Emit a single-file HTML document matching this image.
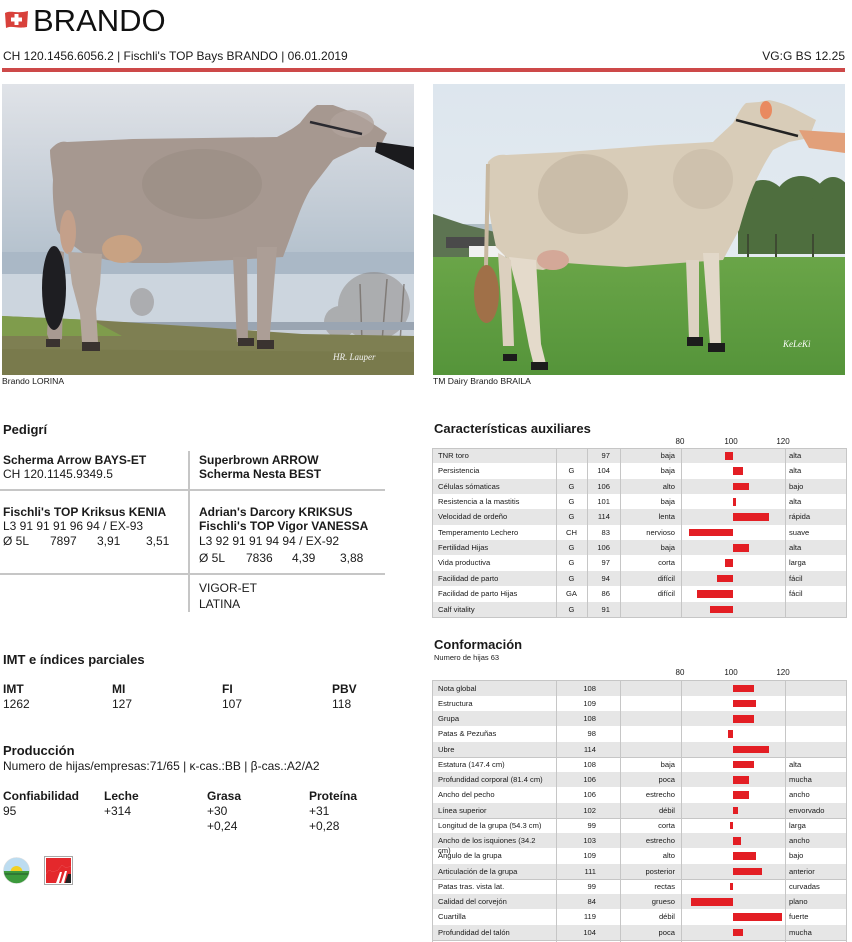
<!DOCTYPE html>
<html><head><meta charset="utf-8">
<style>
*{margin:0;padding:0;box-sizing:border-box}
html,body{width:852px;height:942px;overflow:hidden;background:#fff}
body{position:relative;font-family:"Liberation Sans",sans-serif;color:#1a1a1a}
.a{position:absolute;white-space:nowrap}
.L{position:absolute;white-space:nowrap;font-size:12px;line-height:15px}
.b{font-weight:bold}
.H{position:absolute;white-space:nowrap;font-size:13px;line-height:16px;font-weight:bold}
.ax{position:absolute;font-size:8px;line-height:10px;width:30px;text-align:center}
.r{position:absolute;left:432px;width:414px;height:15.35px;line-height:15.35px;font-size:7.6px}
.r2{height:15.25px;line-height:15.25px}
.g{background:#e6e6e6}
.r span{position:absolute;white-space:nowrap}
.n{left:6px}
.c{left:124px;width:31px;text-align:center}
.v{right:236px}
.v2{right:250px}
.lo{right:171px}
.hi{left:357px}
.bar{position:absolute;top:4px;height:7.5px;background:#e31e24}
.vl{position:absolute;width:1px;background:#c6c6c6}
.hl{position:absolute;height:1px;background:#c6c6c6}
</style></head><body>

<!-- Header -->
<svg class="a" style="left:4px;top:10px" width="25" height="19" viewBox="0 0 25 19">
<path d="M1,3 C7,0 12,4 24,1 L23,17 C13,19 8,15 2,18 Z" fill="#d8413b"/>
<rect x="10.5" y="4" width="4" height="11" fill="#fff"/>
<rect x="7" y="7.5" width="11" height="4" fill="#fff"/>
</svg>
<div class="a" style="left:33px;top:3.4px;font-size:31px;line-height:36px;color:#111">BRANDO</div>
<div class="L" style="left:3px;top:48.5px">CH 120.1456.6056.2 | Fischli's TOP Bays BRANDO | 06.01.2019</div>
<div class="L" style="right:7px;top:48.5px">VG:G BS 12.25</div>
<div class="a" style="left:2px;top:68px;width:843px;height:4px;background:#cd4949"></div>

<!-- Left photo -->
<svg class="a" style="left:2px;top:84px" width="412" height="291" viewBox="0 0 412 291">
<defs><linearGradient id="s1" x1="0" y1="0" x2="0" y2="1"><stop offset="0" stop-color="#e0e3e8"/><stop offset="0.6" stop-color="#c7cfd8"/><stop offset="1" stop-color="#b4c1cd"/></linearGradient></defs>
<rect width="412" height="291" fill="#c9d0d8"/>
<rect width="412" height="175" fill="url(#s1)"/>
<rect y="168" width="412" height="22" fill="#aab8c6"/>
<rect y="190" width="412" height="50" fill="#ccd5de"/>
<g fill="#857d78" opacity="0.45"><ellipse cx="372" cy="222" rx="36" ry="34"/><ellipse cx="338" cy="238" rx="16" ry="16"/><ellipse cx="140" cy="218" rx="12" ry="14"/></g>
<g stroke="#6e6660" stroke-width="1.5" opacity="0.7"><line x1="360" y1="258" x2="358" y2="200"/><line x1="380" y1="258" x2="385" y2="195"/><line x1="398" y1="258" x2="402" y2="200"/></g>
<rect y="238" width="412" height="8" fill="#9aa5b2"/>
<polygon points="0,232 90,236 200,243 300,250 412,252 412,291 0,291" fill="#7e7f52"/>
<polygon points="0,232 90,236 120,252 0,252" fill="#7f9c4c"/>
<polygon points="0,265 412,268 412,291 0,291" fill="#76774a" opacity="0.6"/>
<path d="M48,66 C55,58 60,57 65,58 L131,55 L275,53 C285,48 292,44 298,39 C305,30 310,24 315,21 L331,21 C345,26 355,30 365,36 L385,49 L378,63 L358,63 C348,68 338,72 331,76 C322,88 314,98 308,106 C300,120 295,135 291,146 L281,173 L231,176 L165,179 L131,179 L105,176 L81,169 C70,160 60,155 55,146 C52,130 50,110 51,96 C50,85 48,75 48,66 Z" fill="#a69890"/>
<ellipse cx="200" cy="100" rx="60" ry="35" fill="#9a8c84" opacity="0.6"/>
<ellipse cx="350" cy="40" rx="22" ry="14" fill="#b0a39b" opacity="0.8"/>
<ellipse cx="120" cy="165" rx="20" ry="14" fill="#c8a283"/>
<ellipse cx="66" cy="148" rx="8" ry="22" fill="#c4a08a"/>
<polygon points="66,168 100,170 98,200 94,225 96,258 88,262 80,258 78,230 70,200" fill="#b4a69c"/>
<polygon points="50,165 62,168 60,255 48,258 45,250" fill="#a89a92"/>
<polygon points="231,173 245,173 246,258 235,258" fill="#a89a92"/>
<polygon points="255,163 275,163 268,250 268,262 255,262 255,250" fill="#ac9e96"/>
<g fill="#3a3330"><rect x="80" y="258" width="18" height="9"/><rect x="44" y="255" width="14" height="8"/><rect x="236" y="254" width="16" height="8"/><rect x="255" y="256" width="17" height="9"/></g>
<ellipse cx="52" cy="204" rx="12" ry="42" fill="#1e1e22"/>
<polygon points="375,58 412,63 412,86 373,68" fill="#1b1b1e"/>
<line x1="308" y1="38" x2="360" y2="50" stroke="#2a2a30" stroke-width="2.5"/>
<text x="331" y="276" font-family="Liberation Serif,serif" font-style="italic" font-size="9" fill="#f2f2f2">HR. Lauper</text>
</svg>
<div class="a" style="left:2px;top:375.8px;font-size:8.6px;line-height:11px">Brando LORINA</div>

<!-- Right photo -->
<svg class="a" style="left:433px;top:84px" width="412" height="291" viewBox="0 0 412 291">
<defs><linearGradient id="s2" x1="0" y1="0" x2="0" y2="1"><stop offset="0" stop-color="#dde6ee"/><stop offset="1" stop-color="#e8eef2"/></linearGradient>
<linearGradient id="g2" x1="0" y1="0" x2="0" y2="1"><stop offset="0" stop-color="#6aa548"/><stop offset="1" stop-color="#55943a"/></linearGradient></defs>
<rect width="412" height="291" fill="url(#s2)"/>
<rect y="140" width="80" height="40" fill="#8ea0a8" opacity="0.6"/>
<polygon points="0,130 30,140 70,150 70,178 0,178" fill="#5d7452"/>
<rect x="13" y="153" width="40" height="11" fill="#4a4a4a"/>
<rect x="36" y="162" width="36" height="16" fill="#f0f0f0"/>
<g fill="#4e6e3e"><ellipse cx="330" cy="132" rx="28" ry="36"/><ellipse cx="368" cy="122" rx="28" ry="30"/><ellipse cx="400" cy="127" rx="22" ry="34"/><rect x="305" y="125" width="107" height="45"/></g>
<g stroke="#3e4a32" stroke-width="2"><line x1="315" y1="150" x2="315" y2="176"/><line x1="343" y1="150" x2="343" y2="176"/><line x1="380" y1="150" x2="380" y2="176"/></g>
<rect y="173" width="412" height="118" fill="url(#g2)"/>
<path d="M55,78 C60,72 66,70 73,71 L133,68 L226,61 L280,58 C288,50 295,44 300,39 C305,30 309,22 313,19 L326,18 L336,16 C345,18 352,20 360,24 L383,36 L376,54 L356,58 L340,66 C332,78 326,90 320,103 C314,118 310,132 306,146 L290,176 L260,178 L193,183 L160,181 L133,179 L110,186 L83,183 L63,163 C58,140 55,120 53,103 C53,95 54,85 55,78 Z" fill="#d8ccb8"/>
<ellipse cx="150" cy="110" rx="45" ry="40" fill="#c0b19c" opacity="0.55"/>
<ellipse cx="270" cy="95" rx="30" ry="30" fill="#c4b6a2" opacity="0.5"/>
<ellipse cx="120" cy="176" rx="16" ry="10" fill="#d4a898"/>
<polygon points="76,173 103,176 108,260 113,280 101,282 96,262 88,220 80,190" fill="#e4dacb"/>
<polygon points="65,169 78,176 81,262 70,262 68,220" fill="#dcd0bf"/>
<polygon points="253,176 266,176 266,255 256,255" fill="#ddd2c2"/>
<polygon points="270,169 286,169 288,260 277,260" fill="#e2d8c9"/>
<g fill="#1c1c1c"><rect x="98" y="278" width="17" height="8"/><rect x="70" y="270" width="14" height="7"/><rect x="254" y="253" width="16" height="9"/><rect x="275" y="259" width="17" height="9"/></g>
<line x1="55" y1="80" x2="53" y2="182" stroke="#c8b8a0" stroke-width="4"/>
<ellipse cx="53.5" cy="210" rx="12.5" ry="29" fill="#a07048"/>
<polygon points="366,46 412,49 412,69 376,64" fill="#e2a07a"/>
<ellipse cx="333" cy="26" rx="6" ry="9" fill="#e98a60"/>
<line x1="303" y1="36" x2="365" y2="52" stroke="#222" stroke-width="2.5"/>
<text x="350" y="263" font-family="Liberation Serif,serif" font-style="italic" font-size="9" fill="#fff">KeLeKi</text>
</svg>
<div class="a" style="left:433px;top:375.8px;font-size:8.6px;line-height:11px">TM Dairy Brando BRAILA</div>

<!-- Pedigri -->
<div class="H" style="left:3px;top:422px">Pedigrí</div>
<div class="vl" style="left:188px;top:451px;height:161px;width:1.5px"></div>
<div class="hl" style="left:0;top:489px;width:385px;height:1.5px"></div>
<div class="hl" style="left:0;top:573px;width:385px;height:1.5px"></div>
<div class="L b" style="left:3px;top:452.6px">Scherma Arrow BAYS-ET</div>
<div class="L" style="left:3px;top:466.8px">CH 120.1145.9349.5</div>
<div class="L b" style="left:199px;top:452.6px">Superbrown ARROW</div>
<div class="L b" style="left:199px;top:466.8px">Scherma Nesta BEST</div>
<div class="L b" style="left:3px;top:505.1px">Fischli's TOP Kriksus KENIA</div>
<div class="L" style="left:3px;top:519.3px">L3 91 91 91 96 94 / EX-93</div>
<div class="L" style="left:3px;top:534.1px">Ø 5L</div>
<div class="L" style="left:50px;top:534.1px">7897</div>
<div class="L" style="left:97px;top:534.1px">3,91</div>
<div class="L" style="left:146px;top:534.1px">3,51</div>
<div class="L b" style="left:199px;top:505.1px">Adrian's Darcory KRIKSUS</div>
<div class="L b" style="left:199px;top:519.3px">Fischli's TOP Vigor VANESSA</div>
<div class="L" style="left:199px;top:534.1px">L3 92 91 91 94 94 / EX-92</div>
<div class="L" style="left:199px;top:551.1px">Ø 5L</div>
<div class="L" style="left:246px;top:551.1px">7836</div>
<div class="L" style="left:292px;top:551.1px">4,39</div>
<div class="L" style="left:340px;top:551.1px">3,88</div>
<div class="L" style="left:199px;top:580.5px">VIGOR-ET</div>
<div class="L" style="left:199px;top:597.1px">LATINA</div>

<!-- IMT -->
<div class="H" style="left:3px;top:651.6px">IMT e índices parciales</div>
<div class="L b" style="left:3px;top:681.8px">IMT</div>
<div class="L b" style="left:112px;top:681.8px">MI</div>
<div class="L b" style="left:222px;top:681.8px">FI</div>
<div class="L b" style="left:332px;top:681.8px">PBV</div>
<div class="L" style="left:3px;top:696.8px">1262</div>
<div class="L" style="left:112px;top:696.8px">127</div>
<div class="L" style="left:222px;top:696.8px">107</div>
<div class="L" style="left:332px;top:696.8px">118</div>

<div class="H" style="left:3px;top:742.6px">Producción</div>
<div class="L" style="left:3px;top:758.5px">Numero de hijas/empresas:71/65 | κ-cas.:BB | β-cas.:A2/A2</div>
<div class="L b" style="left:3px;top:788.5px">Confiabilidad</div>
<div class="L b" style="left:104px;top:788.5px">Leche</div>
<div class="L b" style="left:207px;top:788.5px">Grasa</div>
<div class="L b" style="left:309px;top:788.5px">Proteína</div>
<div class="L" style="left:3px;top:803.5px">95</div>
<div class="L" style="left:104px;top:803.5px">+314</div>
<div class="L" style="left:207px;top:803.5px">+30</div>
<div class="L" style="left:309px;top:803.5px">+31</div>
<div class="L" style="left:207px;top:818.5px">+0,24</div>
<div class="L" style="left:309px;top:818.5px">+0,28</div>

<!-- Logos -->
<svg class="a" style="left:3px;top:857px" width="27" height="27" viewBox="0 0 27 27">
<defs><clipPath id="cc"><circle cx="13.5" cy="13.5" r="13"/></clipPath></defs>
<g clip-path="url(#cc)"><rect width="27" height="27" fill="#bcdcf0"/><circle cx="13.5" cy="15" r="6" fill="#f2d020"/><rect y="14" width="27" height="13" fill="#3c9a3c"/><line x1="0" y1="17" x2="27" y2="17" stroke="#23562a" stroke-width="1"/></g>
<circle cx="13.5" cy="13.5" r="13" fill="none" stroke="#ddd" stroke-width="0.6"/>
</svg>
<svg class="a" style="left:44px;top:856px" width="29" height="29" viewBox="0 0 29 29">
<rect x="0.5" y="0.5" width="28" height="28" fill="#fff" stroke="#a8a8a8"/>
<polygon points="2,2 27,2 27,10 22,12 18,9 14,14 9,16 5,14 2,18" fill="#e4282c"/>
<polygon points="2,18 5,14 9,16 14,14 18,9 22,12 27,10 27,27 2,27" fill="#e4282c"/>
<polygon points="12,27 16,16 18,16 15,27" fill="#fff"/><polygon points="17,27 21,15 23,15 20,27" fill="#fff"/>
<polygon points="21,27 24,18 27,18 27,27" fill="#222"/>
</svg>

<!-- Caracteristicas -->
<div class="H" style="left:434px;top:421.3px">Características auxiliares</div>
<div class="ax" style="left:665px;top:436.6px">80</div>
<div class="ax" style="left:716px;top:436.6px">100</div>
<div class="ax" style="left:768px;top:436.6px">120</div>

<div class="r g" style="top:448px"><span class="n">TNR toro</span><span class="c"></span><span class="v">97</span><span class="lo">baja</span><b class="bar" style="left:293.2px;width:7.8px"></b><span class="hi">alta</span></div>
<div class="r" style="top:463.35px"><span class="n">Persistencia</span><span class="c">G</span><span class="v">104</span><span class="lo">baja</span><b class="bar" style="left:301px;width:10.4px"></b><span class="hi">alta</span></div>
<div class="r g" style="top:478.7px"><span class="n">Células sómaticas</span><span class="c">G</span><span class="v">106</span><span class="lo">alto</span><b class="bar" style="left:301px;width:15.6px"></b><span class="hi">bajo</span></div>
<div class="r" style="top:494.05px"><span class="n">Resistencia a la mastitis</span><span class="c">G</span><span class="v">101</span><span class="lo">baja</span><b class="bar" style="left:301px;width:2.6px"></b><span class="hi">alta</span></div>
<div class="r g" style="top:509.4px"><span class="n">Velocidad de ordeño</span><span class="c">G</span><span class="v">114</span><span class="lo">lenta</span><b class="bar" style="left:301px;width:36.4px"></b><span class="hi">rápida</span></div>
<div class="r" style="top:524.75px"><span class="n">Temperamento Lechero</span><span class="c">CH</span><span class="v">83</span><span class="lo">nervioso</span><b class="bar" style="left:256.8px;width:44.2px"></b><span class="hi">suave</span></div>
<div class="r g" style="top:540.1px"><span class="n">Fertilidad Hijas</span><span class="c">G</span><span class="v">106</span><span class="lo">baja</span><b class="bar" style="left:301px;width:15.6px"></b><span class="hi">alta</span></div>
<div class="r" style="top:555.45px"><span class="n">Vida productiva</span><span class="c">G</span><span class="v">97</span><span class="lo">corta</span><b class="bar" style="left:293.2px;width:7.8px"></b><span class="hi">larga</span></div>
<div class="r g" style="top:570.8px"><span class="n">Facilidad de parto</span><span class="c">G</span><span class="v">94</span><span class="lo">difícil</span><b class="bar" style="left:285.4px;width:15.6px"></b><span class="hi">fácil</span></div>
<div class="r" style="top:586.15px"><span class="n">Facilidad de parto Hijas</span><span class="c">GA</span><span class="v">86</span><span class="lo">difícil</span><b class="bar" style="left:264.6px;width:36.4px"></b><span class="hi">fácil</span></div>
<div class="r g" style="top:601.5px"><span class="n">Calf vitality</span><span class="c">G</span><span class="v">91</span><span class="lo"></span><b class="bar" style="left:277.6px;width:23.4px"></b><span class="hi"></span></div>

<div class="a" style="left:431.5px;top:447.5px;width:415px;height:170px;border:1.5px solid #c6c6c6"></div>
<div class="vl" style="left:556px;top:448px;height:169px"></div>
<div class="vl" style="left:587px;top:448px;height:169px"></div>
<div class="vl" style="left:620px;top:448px;height:169px"></div>
<div class="vl" style="left:681px;top:448px;height:169px"></div>
<div class="vl" style="left:785px;top:448px;height:169px"></div>

<!-- Conformacion -->
<div class="H" style="left:434px;top:636.8px">Conformación</div>
<div class="a" style="left:434px;top:652.9px;font-size:7.5px;line-height:10px">Numero de hijas 63</div>
<div class="ax" style="left:665px;top:667.8px">80</div>
<div class="ax" style="left:716px;top:667.8px">100</div>
<div class="ax" style="left:768px;top:667.8px">120</div>

<div class="r r2 g" style="top:680.7px"><span class="n">Nota global</span><span class="v2">108</span><b class="bar" style="left:301px;width:20.8px"></b></div>
<div class="r r2" style="top:695.95px"><span class="n">Estructura</span><span class="v2">109</span><b class="bar" style="left:301px;width:23.4px"></b></div>
<div class="r r2 g" style="top:711.2px"><span class="n">Grupa</span><span class="v2">108</span><b class="bar" style="left:301px;width:20.8px"></b></div>
<div class="r r2" style="top:726.45px"><span class="n">Patas &amp; Pezuñas</span><span class="v2">98</span><b class="bar" style="left:295.8px;width:5.2px"></b></div>
<div class="r r2 g" style="top:741.7px"><span class="n">Ubre</span><span class="v2">114</span><b class="bar" style="left:301px;width:36.4px"></b></div>
<div class="r r2" style="top:756.95px"><span class="n">Estatura (147.4 cm)</span><span class="v2">108</span><span class="lo">baja</span><b class="bar" style="left:301px;width:20.8px"></b><span class="hi">alta</span></div>
<div class="r r2 g" style="top:772.2px"><span class="n">Profundidad corporal (81.4 cm)</span><span class="v2">106</span><span class="lo">poca</span><b class="bar" style="left:301px;width:15.6px"></b><span class="hi">mucha</span></div>
<div class="r r2" style="top:787.45px"><span class="n">Ancho del pecho</span><span class="v2">106</span><span class="lo">estrecho</span><b class="bar" style="left:301px;width:15.6px"></b><span class="hi">ancho</span></div>
<div class="r r2 g" style="top:802.7px"><span class="n">Línea superior</span><span class="v2">102</span><span class="lo">débil</span><b class="bar" style="left:301px;width:5.2px"></b><span class="hi">envorvado</span></div>
<div class="r r2" style="top:817.95px"><span class="n">Longitud de la grupa (54.3 cm)</span><span class="v2">99</span><span class="lo">corta</span><b class="bar" style="left:298.4px;width:2.6px"></b><span class="hi">larga</span></div>
<div class="r r2 g" style="top:833.2px"><span class="n">Ancho de los isquiones (34.2</span><span class="v2">103</span><span class="lo">estrecho</span><b class="bar" style="left:301px;width:7.8px"></b><span class="hi">ancho</span></div>
<div class="r r2" style="top:848.45px"><span class="n">Ángulo de la grupa</span><span class="v2">109</span><span class="lo">alto</span><b class="bar" style="left:301px;width:23.4px"></b><span class="hi">bajo</span></div>
<div class="r r2" style="top:843.2px;background:none"><span class="n">cm)</span></div>
<div class="r r2 g" style="top:863.7px"><span class="n">Articulación de la grupa</span><span class="v2">111</span><span class="lo">posterior</span><b class="bar" style="left:301px;width:28.6px"></b><span class="hi">anterior</span></div>
<div class="r r2" style="top:878.95px"><span class="n">Patas tras. vista lat.</span><span class="v2">99</span><span class="lo">rectas</span><b class="bar" style="left:298.4px;width:2.6px"></b><span class="hi">curvadas</span></div>
<div class="r r2 g" style="top:894.2px"><span class="n">Calidad del corvejón</span><span class="v2">84</span><span class="lo">grueso</span><b class="bar" style="left:259.4px;width:41.6px"></b><span class="hi">plano</span></div>
<div class="r r2" style="top:909.45px"><span class="n">Cuartilla</span><span class="v2">119</span><span class="lo">débil</span><b class="bar" style="left:301px;width:49.4px"></b><span class="hi">fuerte</span></div>
<div class="r r2 g" style="top:924.7px"><span class="n">Profundidad del talón</span><span class="v2">104</span><span class="lo">poca</span><b class="bar" style="left:301px;width:10.4px"></b><span class="hi">mucha</span></div>

<div class="a" style="left:431.5px;top:680.2px;width:415px;height:270px;border:1.5px solid #c6c6c6"></div>
<div class="hl" style="left:432px;top:756.5px;width:414px"></div>
<div class="hl" style="left:432px;top:817.5px;width:414px"></div>
<div class="hl" style="left:432px;top:878.5px;width:414px"></div>
<div class="hl" style="left:432px;top:940px;width:414px"></div>
<div class="vl" style="left:556px;top:681px;height:261px"></div>
<div class="vl" style="left:620px;top:681px;height:261px"></div>
<div class="vl" style="left:681px;top:681px;height:261px"></div>
<div class="vl" style="left:785px;top:681px;height:261px"></div>

</body></html>
